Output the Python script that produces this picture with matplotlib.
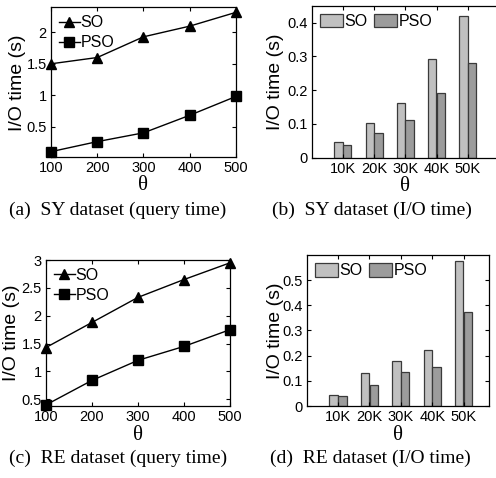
import matplotlib
matplotlib.use("Agg")
import matplotlib.pyplot as plt
import numpy as np

# query time vs theta
theta = [100, 200, 300, 400, 500]
sy_so = [1.50, 1.60, 1.93, 2.10, 2.32]
sy_pso = [0.10, 0.26, 0.40, 0.68, 0.98]
re_so = [1.43, 1.88, 2.33, 2.65, 2.95]
re_pso = [0.40, 0.84, 1.20, 1.45, 1.75]

# I/O time vs dataset size
sizes = ["10K", "20K", "30K", "40K", "50K"]
sy_io_so = [0.045, 0.103, 0.161, 0.292, 0.418]
sy_io_pso = [0.037, 0.074, 0.113, 0.192, 0.280]
re_io_so = [0.042, 0.130, 0.180, 0.221, 0.577]
re_io_pso = [0.040, 0.083, 0.137, 0.156, 0.373]

plt.rcParams['font.family'] = ['Liberation Sans', 'DejaVu Sans']

SO_COL = '#c0c0c0'
PSO_COL = '#9c9c9c'
EDGE = '#3a3a3a'


def style_axes(ax, right=True):
    ax.tick_params(direction='in', top=True, right=right, labelsize=10.5,
                   length=3, width=0.8, pad=3)
    for s in ax.spines.values():
        s.set_linewidth(0.9)


def line_panel(ax, so, pso, ylim, yticks, lab_x, lab_y):
    ax.plot(theta, so, '-^', color='black', markersize=7, linewidth=1, label='SO', clip_on=False)
    ax.plot(theta, pso, '-s', color='black', markersize=6.5, linewidth=1, label='PSO', clip_on=False)
    ax.set_xlim(100, 500)
    ax.set_ylim(*ylim)
    ax.set_xticks(theta)
    ax.set_yticks(yticks)
    ax.set_yticklabels([f'{v:g}' for v in yticks])
    style_axes(ax)
    ax.set_ylabel('I/O time (s)', fontsize=14)
    ax.set_xlabel('θ', fontsize=15, family=['Liberation Serif'])
    ax.yaxis.set_label_coords(lab_x, 0.5)
    ax.xaxis.set_label_coords(0.5, lab_y)
    ax.legend(loc='upper left', frameon=False, fontsize=11.5, handlelength=1.3,
              handletextpad=0.05, labelspacing=0.3, borderaxespad=0.2,
              borderpad=0.3)


def bar_panel(ax, so, pso, ylim, yticks, xlim, lab_x, lab_y, right=True):
    x = np.arange(1, len(sizes) + 1)
    w = 0.27
    ax.bar(x - 0.14, so, w, color=SO_COL, edgecolor=EDGE, linewidth=0.9, label='SO')
    ax.bar(x + 0.14, pso, w, color=PSO_COL, edgecolor=EDGE, linewidth=0.9, label='PSO')
    ax.set_xlim(*xlim)
    ax.set_ylim(*ylim)
    ax.set_xticks(x)
    ax.set_xticklabels(sizes)
    ax.set_yticks(yticks)
    ax.set_yticklabels([f'{v:g}' for v in yticks])
    style_axes(ax, right)
    ax.set_ylabel('I/O time (s)', fontsize=14)
    ax.set_xlabel('θ', fontsize=15, family=['Liberation Serif'])
    ax.yaxis.set_label_coords(lab_x, 0.5)
    ax.xaxis.set_label_coords(0.5, lab_y)
    ax.legend(loc='upper left', frameon=False, fontsize=11.5, ncol=2,
              handlelength=1.45, handleheight=0.95, handletextpad=0.1,
              columnspacing=0.4, borderaxespad=0.2, borderpad=0.3)


fig = plt.figure(figsize=(4.96, 4.78), dpi=100)

ax_a = fig.add_axes([0.1028, 0.6709, 0.373, 0.3138])
line_panel(ax_a, sy_so, sy_pso, (0.01, 2.4), [0.5, 1, 1.5, 2], -0.135, -0.125)

ax_b = fig.add_axes([0.6284, 0.6701, 0.3776, 0.318])
bar_panel(ax_b, sy_io_so, sy_io_pso, (0, 0.45), [0, 0.1, 0.2, 0.3, 0.4], (0, 6),
          -0.147, -0.125, right=False)

ax_c = fig.add_axes([0.0927, 0.1506, 0.371, 0.3054])
line_panel(ax_c, re_so, re_pso, (0.38, 3.0), [0.5, 1, 1.5, 2, 2.5, 3], -0.14, -0.135)

ax_d = fig.add_axes([0.6183, 0.1506, 0.367, 0.316])
bar_panel(ax_d, re_io_so, re_io_pso, (0, 0.6), [0, 0.1, 0.2, 0.3, 0.4, 0.5], (0, 5.8),
          -0.125, -0.13)

cap = dict(fontsize=14, family=['Liberation Serif'], ha='center', va='center')
fig.text(118 / 496, 1 - 210 / 478, '(a)  SY dataset (query time)', **cap)
fig.text(372 / 496, 1 - 210 / 478, '(b)  SY dataset (I/O time)', **cap)
fig.text(118 / 496, 1 - 458 / 478, '(c)  RE dataset (query time)', **cap)
fig.text(370 / 496, 1 - 458 / 478, '(d)  RE dataset (I/O time)', **cap)

fig.savefig('out.png', dpi=100)
